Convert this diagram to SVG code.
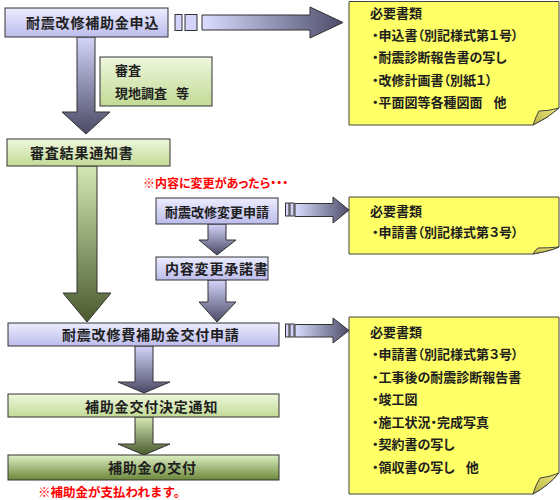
<svg xmlns="http://www.w3.org/2000/svg" width="560" height="500" viewBox="0 0 560 500">
<defs>
<linearGradient id="gLav" x1="0" y1="0" x2="0" y2="1"><stop offset="0" stop-color="#ececff"/><stop offset="1" stop-color="#bcbcec"/></linearGradient>
<linearGradient id="gGreen" x1="0" y1="0" x2="0" y2="1"><stop offset="0" stop-color="#eef7dc"/><stop offset="1" stop-color="#c2da96"/></linearGradient>
<linearGradient id="gGreenDark" x1="0" y1="0" x2="0" y2="1"><stop offset="0" stop-color="#dcefc4"/><stop offset="1" stop-color="#6c883a"/></linearGradient>
<linearGradient id="gArrLav" x1="0" y1="0" x2="0" y2="1"><stop offset="0" stop-color="#d4d4fa"/><stop offset="1" stop-color="#4a4a66"/></linearGradient>
<linearGradient id="gArrGreen" x1="0" y1="0" x2="0" y2="1"><stop offset="0" stop-color="#d4e8b4"/><stop offset="1" stop-color="#4a5a2e"/></linearGradient>
<linearGradient id="gArrH" x1="0" y1="0" x2="1" y2="0"><stop offset="0" stop-color="#dcdcff"/><stop offset="1" stop-color="#4c4c6a"/></linearGradient>
<linearGradient id="gFlap" x1="0" y1="1" x2="1" y2="0"><stop offset="0" stop-color="#b8b040"/><stop offset="1" stop-color="#f0ea80"/></linearGradient>
</defs>
<style>
.box{stroke:#333;stroke-width:1}
.lav{fill:url(#gLav)}
.grn{fill:url(#gGreen)}
.grnd{fill:url(#gGreenDark)}
.arrL{fill:url(#gArrLav);stroke:#333;stroke-width:1}
.arrG{fill:url(#gArrGreen);stroke:#333;stroke-width:1}
.arrH{fill:url(#gArrH);stroke:#333;stroke-width:1}
.stub{fill:#d4d4fa;stroke:#333;stroke-width:1}
.note{fill:#ffff66;stroke:#444;stroke-width:1}
.flap{fill:url(#gFlap);stroke:#444;stroke-width:1}
text{font-family:"Noto Sans CJK JP","Noto Sans CJK SC",sans-serif;font-weight:bold;fill:#1e1e1e}
.t14{font-size:14px;letter-spacing:0.8px}
.t13{font-size:13px}
.nt{font-size:13px;font-feature-settings:"palt"}
.red{font-size:12px;fill:#ff0000;font-feature-settings:"palt"}
.red2{font-size:12.5px;fill:#ff0000}
</style>

<g id="connectors">
<polygon class="arrL" points="77,37 95,37 95,112 110,112 86,134 62,112 77,112"/>
<polygon class="arrG" points="77,166 97,166 97,293 111,293 87,322 63,293 77,293"/>
<polygon class="arrL" points="208,224 226,224 226,240 236,240 217,255 199,240 208,240"/>
<polygon class="arrL" points="208,280 226,280 226,302 236,302 217,322 199,302 208,302"/>
<polygon class="arrL" points="135,346 153,346 153,382 170,382 144,393 118,382 135,382"/>
<polygon class="arrG" points="135,417 153,417 153,444 170,444 144,455 118,444 135,444"/>
<g id="arrow-h1">
<rect class="stub" x="175" y="14.5" width="7" height="16"/>
<rect class="stub" x="185" y="14.5" width="12" height="16"/>
<polygon class="arrH" points="202,15 310,15 310,7 343,22.5 310,38 310,30 202,30"/>
</g>
<g id="arrow-h2">
<rect class="stub" x="285.5" y="203" width="3.5" height="13"/>
<rect class="stub" x="290" y="203" width="4" height="13"/>
<polygon class="arrH" points="295,203.5 333,203.5 333,197 349,210 333,223 333,216.5 295,216.5"/>
</g>
<g id="arrow-h3">
<rect class="stub" x="285.5" y="324" width="3.5" height="13"/>
<rect class="stub" x="290" y="324" width="4" height="13"/>
<polygon class="arrH" points="295,324.5 333,324.5 333,318 349,330.5 333,343 333,337 295,337"/>
</g>
</g>

<g id="n-apply">
<rect class="box lav" x="5" y="8" width="163" height="29"/>
<text class="t14" x="26" y="27.5">耐震改修補助金申込</text>
</g>
<g id="n-review">
<rect class="box grn" x="100" y="57" width="112" height="49"/>
<text class="t13" x="115" y="75">審査</text>
<text class="t13" x="115" y="98" style="word-spacing:6px">現地調査 等</text>
</g>
<g id="n-result">
<rect class="box grn" x="7" y="139" width="163" height="27"/>
<text class="t14" x="30" y="158">審査結果通知書</text>
</g>
<g id="n-change-note">
<text class="red" x="143" y="188">※内容に変更があったら・・・</text>
</g>
<g id="n-change-apply">
<rect class="box lav" x="156" y="198" width="122" height="26"/>
<text class="t13" x="165" y="216.5">耐震改修変更申請</text>
</g>
<g id="n-change-approve">
<rect class="box lav" x="156" y="257" width="112" height="23"/>
<text class="t14" x="165" y="273.5">内容変更承諾書</text>
</g>
<g id="n-grant-apply">
<rect class="box lav" x="8" y="323" width="271" height="23"/>
<text class="t14" x="62" y="340">耐震改修費補助金交付申請</text>
</g>
<g id="n-grant-decision">
<rect class="box grn" x="8" y="394" width="271" height="23"/>
<text class="t14" x="85" y="411.5">補助金交付決定通知</text>
</g>
<g id="n-grant">
<rect class="box grnd" x="8" y="455" width="271" height="25"/>
<text class="t14" x="108" y="473">補助金の交付</text>
<text class="red2" x="38" y="497">※補助金が支払われます。</text>
</g>

<g id="doc1">
<path class="note" d="M349,1.5 H559 V108 Q548,118 533,125 H349 Z"/>
<path class="flap" d="M533,125 Q536,116 539,111 Q549,111 559,108 Q548,118 533,125 Z"/>
<text class="nt" x="370" y="18">必要書類</text>
<text class="nt" x="372" y="40">・申込書（別記様式第１号）</text>
<text class="nt" x="372" y="62">・耐震診断報告書の写し</text>
<text class="nt" x="372" y="85">・改修計画書（別紙１）</text>
<text class="nt" x="372" y="107" style="word-spacing:8px">・平面図等各種図面 他</text>
</g>
<g id="doc2">
<path class="note" d="M349,197 H559 V247 Q550,251 533,254 H349 Z"/>
<path class="flap" d="M533,254 Q535,250 538,248 Q548,248 559,247 Q550,251 533,254 Z"/>
<text class="nt" x="370" y="216">必要書類</text>
<text class="nt" x="372" y="237">・申請書（別記様式第３号）</text>
</g>
<g id="doc3">
<path class="note" d="M349,317 H559 V473 Q548,486 533,494 H349 Z"/>
<path class="flap" d="M533,494 Q536,484 540,478 Q550,477 559,473 Q548,486 533,494 Z"/>
<text class="nt" x="370" y="337">必要書類</text>
<text class="nt" x="372" y="359">・申請書（別記様式第３号）</text>
<text class="nt" x="372" y="381.5">・工事後の耐震診断報告書</text>
<text class="nt" x="372" y="404">・竣工図</text>
<text class="nt" x="372" y="426.5">・施工状況・完成写真</text>
<text class="nt" x="372" y="449">・契約書の写し</text>
<text class="nt" x="372" y="471.5" style="word-spacing:8px">・領収書の写し 他</text>
</g>
</svg>
